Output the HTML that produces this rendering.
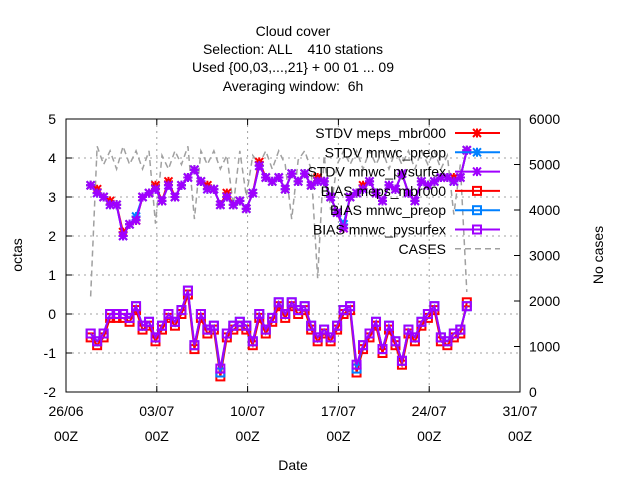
<!DOCTYPE html>
<html><head><meta charset="utf-8"><style>
body{margin:0;background:#fff}
svg{display:block;font-family:"Liberation Sans",sans-serif}
text{white-space:pre}
</style></head><body>
<svg id="chart" width="640" height="480" xmlns="http://www.w3.org/2000/svg">
<rect width="640" height="480" fill="#fff"/>
<g font-size="14" text-anchor="middle">
<text x="293" y="36">Cloud cover</text>
<text x="293" y="54" xml:space="preserve">Selection: ALL    410 stations</text>
<text x="293" y="72">Used {00,03,...,21} + 00 01 ... 09</text>
<text x="293" y="91" xml:space="preserve">Averaging window:  6h</text>
</g>
<text font-size="14" text-anchor="middle" transform="translate(22,255) rotate(-90)">octas</text>
<text font-size="14" text-anchor="middle" transform="translate(603,255) rotate(-90)">No cases</text>
<text font-size="14" text-anchor="middle" x="293" y="470">Date</text>
<g id="grid"></g>
<g id="ticks" font-size="14"></g>
<g id="series"></g>
<rect x="66" y="119" width="454" height="273" fill="none" stroke="#000"/>
<g id="legend" font-size="14"></g>
</svg>
<script>
const xTickLabels=["26/06","03/07","10/07","17/07","24/07","31/07"];
const xTickDays=[0,7,14,21,28,35];
const yTicks=[-2,-1,0,1,2,3,4,5];
const y2Ticks=[0,1000,2000,3000,4000,5000,6000];
const startDay=1.9, stepDay=0.5;
const stdvMeps=[3.3,3.2,3.0,2.9,2.8,2.1,2.3,2.4,3.0,3.1,3.3,2.9,3.4,3.0,3.3,3.5,3.7,3.4,3.3,3.2,2.8,3.1,2.8,2.9,2.7,3.1,3.9,3.5,3.4,3.5,3.2,3.6,3.4,3.6,3.3,3.5,3.4,3.0,2.6,2.2,3.0,3.1,3.3,3.4,3.1,2.9,3.3,3.2,3.6,3.1,2.9,3.4,3.3,3.4,3.5,3.5,3.5,3.5,4.2];
const stdvPreop=[3.3,3.1,3.0,2.8,2.8,2.0,2.3,2.5,3.0,3.1,3.2,2.9,3.3,3.0,3.3,3.5,3.7,3.4,3.2,3.2,2.8,3.0,2.8,2.9,2.7,3.1,3.8,3.5,3.4,3.5,3.2,3.6,3.4,3.6,3.3,3.4,3.4,3.0,2.6,2.3,3.0,3.1,3.2,3.4,3.1,2.9,3.3,3.2,3.6,3.1,2.9,3.4,3.3,3.4,3.5,3.5,3.4,3.5,4.2];
const stdvPysurfex=[3.3,3.1,3.0,2.8,2.8,2.0,2.3,2.4,3.0,3.1,3.2,2.9,3.3,3.0,3.3,3.5,3.7,3.4,3.2,3.2,2.8,3.0,2.8,2.9,2.7,3.1,3.8,3.5,3.4,3.5,3.2,3.6,3.4,3.6,3.3,3.4,3.4,3.0,2.6,2.2,3.0,3.1,3.2,3.4,3.1,2.9,3.3,3.2,3.6,3.1,2.9,3.4,3.3,3.4,3.5,3.5,3.4,3.5,4.2];
const biasMeps=[-0.6,-0.8,-0.6,-0.1,-0.1,-0.1,-0.2,0.1,-0.4,-0.3,-0.7,-0.4,-0.1,-0.3,0.0,0.5,-0.9,-0.1,-0.5,-0.4,-1.6,-0.6,-0.4,-0.3,-0.4,-0.8,-0.1,-0.5,-0.2,0.2,-0.1,0.2,0.0,0.1,-0.4,-0.7,-0.5,-0.7,-0.4,0.0,0.1,-1.5,-0.9,-0.6,-0.3,-1.0,-0.4,-0.8,-1.3,-0.5,-0.7,-0.3,-0.1,0.1,-0.7,-0.8,-0.6,-0.5,0.3];
const biasPreop=[-0.5,-0.7,-0.5,0.0,0.0,0.0,-0.1,0.2,-0.3,-0.2,-0.6,-0.3,0.0,-0.2,0.1,0.6,-0.8,0.0,-0.4,-0.3,-1.5,-0.5,-0.3,-0.2,-0.3,-0.7,0.0,-0.4,-0.1,0.3,0.0,0.3,0.1,0.2,-0.3,-0.6,-0.4,-0.6,-0.3,0.1,0.2,-1.4,-0.8,-0.5,-0.2,-0.9,-0.3,-0.7,-1.2,-0.4,-0.6,-0.2,0.0,0.2,-0.6,-0.7,-0.5,-0.4,0.2];
const biasPysurfex=[-0.5,-0.7,-0.5,0.0,0.0,0.0,-0.1,0.2,-0.3,-0.2,-0.6,-0.3,0.0,-0.2,0.1,0.6,-0.8,0.0,-0.4,-0.3,-1.4,-0.5,-0.3,-0.2,-0.3,-0.7,0.0,-0.4,-0.1,0.3,0.0,0.3,0.1,0.2,-0.3,-0.6,-0.4,-0.6,-0.3,0.1,0.2,-1.3,-0.8,-0.5,-0.2,-0.9,-0.3,-0.7,-1.2,-0.4,-0.6,-0.2,0.0,0.2,-0.6,-0.7,-0.5,-0.4,0.2];
const cases=[2100,5400,5000,5300,4900,5400,5000,5300,4900,5300,3700,5200,4900,5300,5000,5400,3800,5300,5000,5300,4900,5200,4100,5300,4300,5200,5000,5300,4900,5300,5000,3800,5100,5300,4900,2500,5200,4000,5000,5300,5000,5300,4900,5300,5000,5300,4900,5300,5000,5300,4900,5300,5000,5300,4900,5200,3900,5000,2200];

const NS="http://www.w3.org/2000/svg";
function X(d){return 66+d*(454/35);}
function Y(v){return 392-(v+2)*(273/7);}
function Y2(c){return 392-c*(273/6000);}
function mk(tag,attrs,parent){const e=document.createElementNS(NS,tag);for(const k in attrs)e.setAttribute(k,attrs[k]);parent.appendChild(e);return e;}
const grid=document.getElementById('grid'),ticks=document.getElementById('ticks'),ser=document.getElementById('series'),leg=document.getElementById('legend');
xTickDays.forEach((d,i)=>{
  const x=X(d);
  if(i>0&&i<xTickDays.length-1){const g=mk('line',{x1:x,x2:x,y1:119,y2:392,stroke:'#a0a0a0','stroke-dasharray':'2,4'},grid);
  }
  const t=mk('text',{x:x,y:416,'text-anchor':'middle'},ticks);t.textContent=xTickLabels[i];
  
  const t2=mk('text',{x:x,y:441,'text-anchor':'middle'},ticks);t2.textContent="00Z";
  
  mk('line',{x1:x,x2:x,y1:392,y2:386,stroke:'#000'},ticks);mk('line',{x1:x,x2:x,y1:119,y2:125,stroke:'#000'},ticks);
});
yTicks.forEach((v,i)=>{
  const y=Y(v);
  if(i>0&&i<yTicks.length-1){const g=mk('line',{x1:66,x2:520,y1:y,y2:y,stroke:'#a0a0a0','stroke-dasharray':'2,4'},grid);
  }
  const t=mk('text',{x:56,y:y+5,'text-anchor':'end'},ticks);t.textContent=v;
  
  mk('line',{x1:66,x2:72,y1:y,y2:y,stroke:'#000'},ticks);
});
y2Ticks.forEach(c=>{
  const y=Y2(c);
  const t=mk('text',{x:529,y:y+5,'text-anchor':'start'},ticks);t.textContent=c;
  
  mk('line',{x1:520,x2:514,y1:y,y2:y,stroke:'#000'},ticks);
});
function dayAt(i){return startDay+i*stepDay;}
{const p=mk('polyline',{points:cases.map((c,i)=>X(dayAt(i))+','+Y2(c)).join(' '),fill:'none',stroke:'#a0a0a0','stroke-width':1.5,'stroke-dasharray':'6,4'},ser);
}
function star(g,x,y,col){mk('path',{d:`M${x-4},${y-4}L${x+4},${y+4}M${x-4},${y+4}L${x+4},${y-4}M${x-4.5},${y}L${x+4.5},${y}M${x},${y-4.5}L${x},${y+4.5}`,stroke:col,'stroke-width':2},g);}
function sq(g,x,y,col){mk('rect',{x:x-4,y:y-4,width:8,height:8,fill:'none',stroke:col,'stroke-width':2},g);}
const series=[
 {d:stdvMeps,c:'#ff0000',m:star,n:'stdv-meps-mbr000'},
 {d:stdvPreop,c:'#0080ff',m:star,n:'stdv-mnwc-preop'},
 {d:stdvPysurfex,c:'#a000ff',m:star,n:'stdv-mnwc-pysurfex'},
 {d:biasMeps,c:'#ff0000',m:sq,n:'bias-meps-mbr000'},
 {d:biasPreop,c:'#0080ff',m:sq,n:'bias-mnwc-preop'},
 {d:biasPysurfex,c:'#a000ff',m:sq,n:'bias-mnwc-pysurfex'}];
series.forEach(s=>{
  const g=mk('g',{},ser);
  
  mk('polyline',{points:s.d.map((v,i)=>X(dayAt(i))+','+Y(v)).join(' '),fill:'none',stroke:s.c,'stroke-width':2},g);
  s.d.forEach((v,i)=>s.m(g,X(dayAt(i)),Y(v),s.c));
});
const legNames=["STDV meps_mbr000","STDV mnwc_preop","STDV mnwc_pysurfex","BIAS meps_mbr000","BIAS mnwc_preop","BIAS mnwc_pysurfex","CASES"];
legNames.forEach((n,i)=>{
  const y=133+i*19.3;
  const g=mk('g',{},leg);
  
  const t=mk('text',{x:446,y:y+5,'text-anchor':'end'},g);t.textContent=n;
  if(i<6){const s=series[i];mk('line',{x1:455,x2:500,y1:y,y2:y,stroke:s.c,'stroke-width':2},g);s.m(g,477,y,s.c);}
  else mk('line',{x1:455,x2:500,y1:y,y2:y,stroke:'#a0a0a0','stroke-width':1.5,'stroke-dasharray':'6,4'},g);
});
</script>
</body></html>
